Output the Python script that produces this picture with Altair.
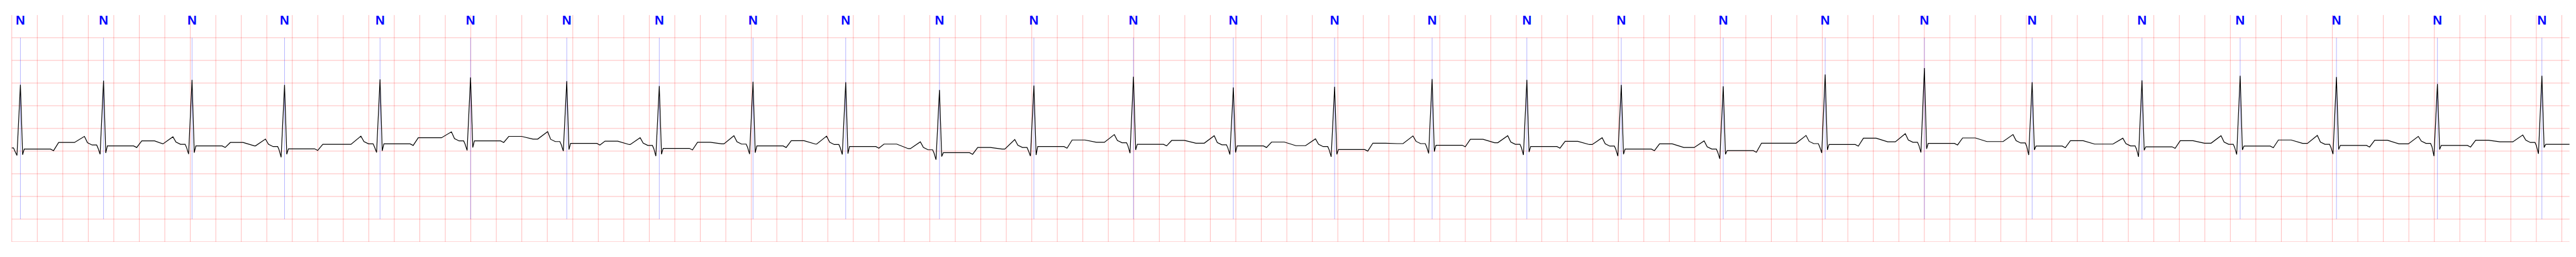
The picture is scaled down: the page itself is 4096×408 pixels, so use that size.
import altair as alt
import pandas as pd

# ---- values (time in s, amplitude in mV) ----
r_time = [0.0676, 0.7196, 1.4137, 2.1393, 2.8881, 3.5981, 4.3526, 5.0784, 5.8135,
          6.5406, 7.2758, 8.0164, 8.7972, 9.5806, 10.3749, 11.1395, 11.8827, 12.6233,
          13.4229, 14.2224, 15.0005, 15.8457, 16.7070, 17.4771, 18.2324, 19.0242, 19.8436]
beat_label = ["N"] * 27

r_level = [1.465, 1.555, 1.57, 1.46, 1.58, 1.625, 1.545, 1.435, 1.53, 1.52, 1.35, 1.445,
           1.64, 1.405, 1.42, 1.59, 1.57, 1.46, 1.43, 1.69, 1.83, 1.52, 1.56, 1.66,
           1.635, 1.48, 1.66]
q_level = [-0.095, -0.07, -0.065, -0.135, -0.03, 0.015, 0.0, -0.11, -0.065, -0.075, -0.19,
           -0.11, -0.045, -0.075, -0.125, -0.05, -0.085, -0.11, -0.17, -0.04, -0.03, -0.085,
           -0.125, -0.075, -0.065, -0.11, -0.06]
s_level = [-0.08, -0.04, -0.035, -0.07, 0.005, 0.08, 0.035, -0.07, -0.035, -0.055, -0.12,
           -0.085, 0.025, -0.03, -0.07, -0.01, -0.02, -0.07, -0.07, 0.025, 0.05, 0.025,
           0.02, 0.025, 0.035, 0.035, 0.08]
pr_level = [0.07, 0.135, 0.15, 0.10, 0.16, 0.225, 0.21, 0.125, 0.155, 0.145, 0.03, 0.08,
            0.185, 0.14, 0.10, 0.165, 0.15, 0.11, 0.045, 0.165, 0.195, 0.18, 0.115, 0.15,
            0.15, 0.17, 0.19]
p_peak = [None, 0.325, 0.315, 0.265, 0.33, 0.425, 0.43, 0.295, 0.34, 0.33, 0.205, 0.255,
          0.365, 0.34, 0.27, 0.335, 0.34, 0.295, 0.225, 0.345, 0.385, 0.365, 0.285, 0.34,
          0.345, 0.325, 0.355]
st_level = [0.045, 0.115, 0.115, 0.05, 0.16, 0.225, 0.17, 0.06, 0.115, 0.10, -0.035, 0.10,
            0.15, 0.115, 0.035, 0.13, 0.10, 0.045, 0.01, 0.145, 0.17, 0.11, 0.095, 0.11,
            0.125, 0.125, 0.15]
t_level = [0.19, 0.225, 0.19, 0.15, 0.295, 0.325, 0.22, 0.195, 0.23, 0.155, 0.08, 0.245,
           0.235, 0.20, 0.175, 0.26, 0.215, 0.16, 0.175, 0.285, 0.29, 0.23, 0.23, 0.245,
           0.24, 0.24, None]
post_level = [0.19, 0.16, 0.115, 0.15, 0.295, 0.265, 0.145, 0.16, 0.155, 0.055, 0.045, 0.195,
              0.175, 0.12, 0.165, 0.185, 0.145, 0.08, 0.175, 0.205, 0.21, 0.155, 0.175, 0.17,
              0.16, 0.205, None]
start_level = 0.07

# waveform shape offsets (s) relative to each R peak
P_START, P_PEAK, P_DROP, PR_MID = -0.228, -0.150, -0.126, -0.09
PR_END, PRE_Q, Q_OFF, S_OFF, J_OFF = -0.054, -0.043, -0.027, 0.0174, 0.030
ST_END, ST_DIP, T_RISE, T_END, T_POST = 0.236, 0.26, 0.30, 0.40, 0.49

X_MIN, X_MAX = 0.0, 20.06
Y_MIN, Y_MAX = -2.0, 3.0
grid_x = [round(0.2 * k, 1) for k in range(101)]
grid_y = [-2.0, -1.5, -1.0, -0.5, 0.0, 0.5, 1.0, 1.5, 2.0, 2.5]

# ---- build trace vertices ----
pts = [(X_MIN, start_level)]
n = len(r_time)
for i in range(n):
    R = r_time[i]
    if p_peak[i] is not None:
        prev = post_level[i - 1]
        pts += [(R + P_START, prev), (R + P_PEAK, p_peak[i]),
                (R + P_DROP, pr_level[i] + 0.05), (R + PR_MID, pr_level[i])]
    pts += [(R + PR_END, pr_level[i]), (R + PRE_Q, pr_level[i] - 0.07),
            (R + Q_OFF, q_level[i]), (R, r_level[i]), (R + S_OFF, s_level[i]),
            (R + J_OFF, st_level[i])]
    if i + 1 < n:
        limit = r_time[i + 1] - R - 0.235
        for off, val in [(ST_END, st_level[i]), (ST_DIP, st_level[i] - 0.035),
                         (T_RISE, t_level[i]), (T_END, t_level[i]), (T_POST, post_level[i])]:
            if off < limit:
                pts.append((R + off, val))
    else:
        pts.append((X_MAX, st_level[i]))

trace = pd.DataFrame({"t": [p[0] for p in pts], "mv": [p[1] for p in pts],
                      "k": list(range(len(pts)))})
vgrid = pd.DataFrame({"t": grid_x, "y0": Y_MIN, "y1": Y_MAX})
hgrid = pd.DataFrame({"v": grid_y, "x0": X_MIN, "x1": X_MAX})
beats = pd.DataFrame({"t": r_time, "lab": beat_label, "y0": -1.5, "y1": 2.5, "ty": 2.79})

xs = alt.Scale(domain=[X_MIN, X_MAX], nice=False, zero=False)
ys = alt.Scale(domain=[Y_MIN, Y_MAX], nice=False, zero=False)

vlines = alt.Chart(vgrid).mark_rule(color="#ff0000", strokeOpacity=0.27, strokeWidth=1.0).encode(
    x=alt.X("t:Q", scale=xs, axis=None), y=alt.Y("y0:Q", scale=ys, axis=None), y2="y1:Q")
hlines = alt.Chart(hgrid).mark_rule(color="#ff0000", strokeOpacity=0.27, strokeWidth=1.0).encode(
    y=alt.Y("v:Q", scale=ys, axis=None), x=alt.X("x0:Q", scale=xs, axis=None), x2="x1:Q")
blines = alt.Chart(beats).mark_rule(color="#0000ff", strokeOpacity=0.5, strokeWidth=0.6).encode(
    x=alt.X("t:Q", scale=xs, axis=None), y=alt.Y("y0:Q", scale=ys, axis=None), y2="y1:Q")
line = alt.Chart(trace).mark_line(color="black", strokeWidth=1.2).encode(
    x=alt.X("t:Q", scale=xs, axis=None), y=alt.Y("mv:Q", scale=ys, axis=None),
    order="k:Q")
labels = alt.Chart(beats).mark_text(color="#0000ff", font="Liberation Sans", fontWeight="bold",
                                     fontSize=20.5, align="center", baseline="alphabetic").encode(
    x=alt.X("t:Q", scale=xs, axis=None), y=alt.Y("ty:Q", scale=ys, axis=None), text="lab:N")

chart = alt.layer(vlines, hlines, blines, line, labels).properties(
    width=4067, height=360,
    autosize=alt.AutoSizeParams(type="none"),
    padding={"left": 10.7, "top": 15.9, "right": 0, "bottom": 0},
    background="white",
).configure_view(stroke=None)

chart.save("out.html", embed_options={"renderer": "svg", "actions": False})
